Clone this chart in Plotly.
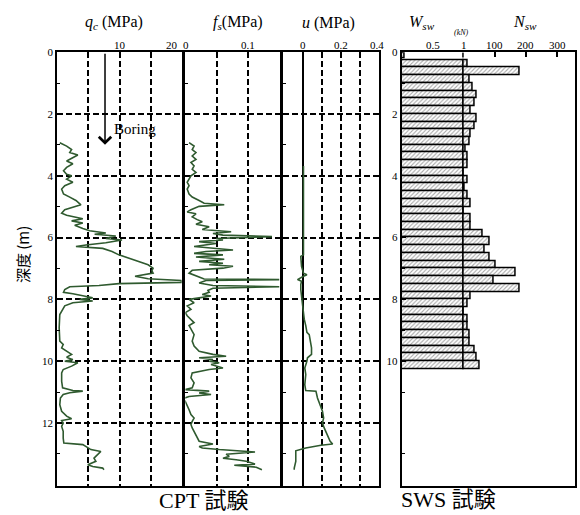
import plotly.graph_objects as go

# ---------------- data ----------------
qc_depth = [2.93, 3.04, 3.15, 3.25, 3.33, 3.41, 3.52, 3.61, 3.73, 3.84, 3.95, 4.0, 4.11, 4.21, 4.32, 4.43,
            4.59, 4.69, 4.8, 4.94, 5.01, 5.10, 5.21, 5.28, 5.39, 5.46, 5.53, 5.6, 5.71, 5.78, 5.85, 5.89,
            5.95, 6.03, 6.08, 6.17, 6.24, 6.29, 6.35, 6.45, 6.56, 6.67, 6.77, 6.88, 6.99, 7.07, 7.15, 7.25,
            7.33, 7.39, 7.45, 7.49, 7.55, 7.59, 7.68, 7.77, 7.82, 7.89, 7.95, 8.0, 8.05, 8.11, 8.21, 8.49,
            8.92, 9.35, 9.46, 9.57, 9.68, 9.78, 9.87, 9.95, 10.0, 10.05, 10.16, 10.27, 10.38, 10.65, 10.86,
            10.95, 10.97, 11.02, 11.08, 11.19, 11.41, 11.62, 11.78, 11.86, 11.92, 12.0, 12.11, 12.27, 12.49,
            12.65, 12.70, 12.79, 12.86, 12.92, 13.03, 13.14, 13.24, 13.35, 13.41, 13.46, 13.51]
qc_val = [0.4, 1.5, 2.3, 2.0, 3.3, 2.5, 1.5, 2.5, 1.5, 1.0, 1.5, 2.3, 1.5, 2.5, 1.2, 0.7,
          1.0, 2.0, 3.0, 3.8, 2.5, 1.2, 0.7, 1.5, 4.1, 2.3, 4.1, 2.8, 4.1, 5.2, 7.8, 6.0,
          9.4, 7.8, 10.4, 7.8, 4.6, 3.0, 7.3, 8.8, 9.9, 11.5, 13.0, 14.6, 15.4, 15.2, 15.4, 12.5,
          14.6, 19.9, 20.0, 9.9, 6.7, 2.0, 1.2, 1.0, 2.5, 4.6, 5.7, 3.6, 5.7, 2.5, 1.2, 0.4,
          0.3, 0.4, 0.95, 0.7, 1.5, 2.3, 1.5, 2.5, 1.2, 3.3, 2.3, 0.95, 0.7, 0.7, 0.85,
          2.5, 4.1, 2.0, 0.95, 0.5, 0.4, 0.7, 1.5, 2.3, 0.7, 0.95, 0.7, 0.95, 0.95,
          1.05, 4.1, 4.9, 5.4, 7.0, 6.5, 5.9, 6.2, 4.9, 5.7, 7.3, 7.5]

fs_depth = [2.93, 3.04, 3.15, 3.25, 3.36, 3.47, 3.57, 3.68, 3.79, 3.89, 4.0, 4.11, 4.21, 4.32, 4.43, 4.59,
            4.69, 4.8, 4.89, 4.94, 4.99, 5.10, 5.17, 5.23, 5.33, 5.42, 5.49, 5.57, 5.65, 5.74, 5.81, 5.87,
            5.92, 5.97, 6.03, 6.08, 6.13, 6.19, 6.24, 6.29, 6.40, 6.45, 6.51, 6.56, 6.63, 6.70, 6.77, 6.83,
            6.88, 6.93, 6.99, 7.06, 7.15, 7.25, 7.34, 7.36, 7.39, 7.47, 7.55, 7.59, 7.64, 7.71, 7.77, 7.84,
            7.89, 7.95, 8.0, 8.11, 8.21, 8.32, 8.43, 8.53, 8.64, 8.75, 8.85, 9.01, 9.14, 9.35, 9.51, 9.68,
            9.78, 9.84, 9.89, 9.95, 10.0, 10.05, 10.11, 10.22, 10.27, 10.38, 10.54, 10.7, 10.86, 10.92,
            10.97, 11.03, 11.08, 11.14, 11.21, 11.30, 11.41, 11.57, 11.73, 11.84, 11.95, 12.05, 12.16,
            12.27, 12.38, 12.49, 12.59, 12.68, 12.76, 12.81, 12.86, 12.94, 13.01, 13.08, 13.14, 13.19,
            13.24, 13.33, 13.37, 13.43, 13.51]
fs_val = [0.006, 0.014, 0.011, 0.017, 0.011, 0.017, 0.009, 0.014, 0.011, 0.017, 0.009, 0.006, 0.003, 0.006,
          0.003, 0.006, 0.011, 0.022, 0.030, 0.062, 0.022, 0.009, 0.003, 0.017, 0.011, 0.019, 0.027, 0.017,
          0.038, 0.027, 0.073, 0.044, 0.060, 0.138, 0.049, 0.060, 0.022, 0.049, 0.027, 0.014, 0.076, 0.033,
          0.014, 0.060, 0.017, 0.062, 0.022, 0.060, 0.038, 0.076, 0.060, 0.011, 0.006, 0.019, 0.030, 0.15,
          0.033, 0.022, 0.044, 0.15, 0.044, 0.036, 0.038, 0.027, 0.041, 0.022, 0.006, 0.014, 0.003, 0.009,
          0.0, 0.003, 0.009, 0.014, 0.006, 0.011, 0.014, 0.011, 0.014, 0.022, 0.044, 0.065, 0.022, 0.044,
          0.038, 0.054, 0.041, 0.060, 0.038, 0.011, 0.009, 0.014, 0.011, 0.0, 0.038, 0.022, 0.041, 0.006,
          -0.004, 0.0, 0.003, 0.006, 0.009, 0.014, 0.011, 0.009, 0.011, 0.014, 0.017, 0.019, 0.022, 0.044,
          0.022, 0.027, 0.054, 0.111, 0.065, 0.070, 0.060, 0.081, 0.097, 0.111, 0.078, 0.113, 0.122]

u_depth = [3.68, 5.85, 6.56, 6.61, 6.93, 7.15, 7.2, 7.25, 7.36, 7.41, 7.52, 7.68, 7.89, 8.21, 8.64, 8.85,
           9.07, 9.14, 9.35, 9.57, 9.78, 9.89, 10.0, 10.22, 10.43, 10.76, 10.95, 10.97, 11.19, 11.41,
           11.62, 11.84, 12.0, 12.16, 12.38, 12.59, 12.68, 12.72, 12.81, 12.90, 13.03, 13.24, 13.46, 13.51]
u_val = [0.005, 0.005, 0.005, -0.009, -0.005, 0.005, 0.023, 0.005, -0.026, -0.005, -0.009, -0.009, -0.005,
         -0.002, 0.009, 0.017, 0.023, 0.035, 0.040, 0.047, 0.047, 0.026, 0.023, 0.012, 0.017, 0.012, 0.017,
         0.070, 0.078, 0.092, 0.104, 0.110, 0.104, 0.113, 0.127, 0.144, 0.157, 0.096, 0.017, -0.035, -0.035,
         -0.035, -0.043, -0.043]

sws_depth = [0.125, 0.375, 0.625, 0.875, 1.125, 1.375, 1.625, 1.875, 2.125, 2.375, 2.625, 2.875, 3.125,
             3.375, 3.625, 3.875, 4.125, 4.375, 4.625, 4.875, 5.125, 5.375, 5.625, 5.875, 6.125, 6.375,
             6.625, 6.875, 7.125, 7.375, 7.625, 7.875, 8.125, 8.375, 8.625, 8.875, 9.125, 9.375, 9.625,
             9.875, 10.125]
wsw = [0.05] + [1.0] * 40
nsw = [0, 12, 181, 19, 31, 42, 37, 24, 42, 37, 24, 19, 8, 12, 12, 0, 12, 5, 12, 24, 0, 24, 24, 62, 85, 67,
       85, 104, 168, 98, 181, 24, 12, 0, 12, 12, 19, 19, 37, 42, 51]

depth_ticks = [0, 2, 4, 6, 8, 10, 12]
sws_depth_ticks = [0, 2, 4, 6, 8, 10]
minor_ticks = [1, 3, 5, 7, 9, 11, 13]

# ---------------- layout helpers ----------------
W, H = 580, 515
def xd(a, b):
    return [a / W, b / W]
YDOM = [1 - 486 / H, 1 - 46.7 / H]
DEPTH_RANGE = [14.05, 0]
SERIF = "Liberation Serif, Times New Roman, serif"
CJK = "Noto Sans CJK JP, sans-serif"
GREEN = "#2f5a2f"

fig = go.Figure()

fig.add_trace(go.Scatter(x=qc_val, y=qc_depth, mode="lines", line=dict(color=GREEN, width=1.6),
                         xaxis="x", yaxis="y", showlegend=False))
fig.add_trace(go.Scatter(x=fs_val, y=fs_depth, mode="lines", line=dict(color=GREEN, width=1.6),
                         xaxis="x2", yaxis="y2", showlegend=False))
fig.add_trace(go.Scatter(x=u_val, y=u_depth, mode="lines", line=dict(color=GREEN, width=1.6),
                         xaxis="x3", yaxis="y3", showlegend=False))

bar_w = [0.17] + [0.25] * 40
pattern = dict(shape="/", fgcolor="#a8a8a8", bgcolor="white", size=3, solidity=0.35, fillmode="replace")
fig.add_trace(go.Bar(x=wsw, y=sws_depth, orientation="h", width=bar_w, base=0,
                     marker=dict(color="white", pattern=pattern, line=dict(color="black", width=1.5)),
                     xaxis="x4", yaxis="y4", showlegend=False))
fig.add_trace(go.Bar(x=nsw, y=sws_depth, orientation="h", width=bar_w, base=0,
                     marker=dict(color="white", pattern=pattern, line=dict(color="black", width=1.5)),
                     xaxis="x5", yaxis="y4", showlegend=False))

grid = dict(showgrid=True, gridcolor="black", gridwidth=1.5, griddash="6px,3px")
frame = dict(showline=True, linecolor="black", linewidth=2, mirror=True, zeroline=False)

def xaxis(dom, rng, gridvals, **kw):
    d = dict(domain=dom, range=rng, side="top", tickvals=gridvals, showticklabels=False, ticks="",
             fixedrange=True, **grid, **frame)
    d.update(kw)
    return d

def yaxis(anchor, ticks_vals, labels=True, showgrid=True):
    d = dict(domain=YDOM, range=DEPTH_RANGE, anchor=anchor, tickvals=ticks_vals,
             ticktext=[str(v) for v in ticks_vals], showticklabels=labels, ticks="inside", ticklen=4,
             tickwidth=1.2, tickcolor="black", tickfont=dict(family=SERIF, size=11, color="black"),
             minor=dict(tickvals=minor_ticks, ticks="inside", ticklen=3, tickcolor="black", showgrid=False),
             **frame)
    d.update(grid)
    d["showgrid"] = showgrid
    return d

fig.update_layout(
    width=W, height=H, margin=dict(l=0, r=0, t=0, b=0),
    paper_bgcolor="white", plot_bgcolor="white", barmode="overlay", bargap=0,
    xaxis=xaxis(xd(57.3, 181.7), [0, 20], [5, 10, 15], anchor="y"),
    xaxis2=xaxis(xd(185.3, 279.5), [0, 0.15], [0.05, 0.1], anchor="y2"),
    xaxis3=xaxis(xd(283.3, 379.3), [-0.1, 0.4], [0.1, 0.2, 0.3], anchor="y3",
                 zeroline=True, zerolinecolor="black", zerolinewidth=1.5),
    xaxis4=dict(domain=xd(401.7, 575), range=[0, 2.804], anchor="y4", side="top", showticklabels=False,
                ticks="", showgrid=False, fixedrange=True, **frame),
    xaxis5=dict(range=[-198, 357.4], overlaying="x4", anchor="y4", side="top", showticklabels=False,
                tickvals=[100, 200, 300], ticks="inside", ticklen=5, tickwidth=1.5, tickcolor="black",
                showgrid=False, showline=False, zeroline=False, fixedrange=True),
    yaxis=yaxis("x", depth_ticks),
    yaxis2=yaxis("x2", depth_ticks, labels=False),
    yaxis3=yaxis("x3", depth_ticks, labels=False),
    yaxis4=yaxis("x4", sws_depth_ticks, showgrid=False),
)

ann = []
TOPY = 1 - 39 / H
top_labels = [
    ("x", 10, "10", "center", 0), ("x", 20, "20", "right", -2),
    ("x2", 0, "0", "center", 1), ("x2", 0.1, "0.1", "center", 0),
    ("x3", 0, "0", "center", 0), ("x3", 0.2, "0.2", "center", 0), ("x3", 0.4, "0.4", "center", -2),
    ("x4", 0.5, "0.5", "center", 0), ("x4", 1, "1", "center", 0),
    ("x5", 100, "100", "center", 0), ("x5", 200, "200", "center", 0), ("x5", 300, "300", "center", 0),
]
for xr, xv, txt, anc, sh in top_labels:
    ann.append(dict(xref=xr, yref="paper", x=xv, y=TOPY, text=txt, showarrow=False, xanchor=anc,
                    yanchor="middle", xshift=sh, font=dict(family=SERIF, size=11, color="black")))

TITY = 1 - 17 / H
titles = [
    (114 / W, "<i>q</i><sub><i>c</i></sub> (MPa)"),
    (238 / W, "<i>f</i><sub><i>s</i></sub>(MPa)"),
    (328 / W, "<i>u</i> (MPa)"),
    (422 / W, "<i>W</i><sub><i>sw</i></sub>"),
    (525 / W, "<i>N</i><sub><i>sw</i></sub>"),
]
for xv, txt in titles:
    ann.append(dict(xref="paper", yref="paper", x=xv, y=TITY, text=txt, showarrow=False,
                    xanchor="center", yanchor="middle", font=dict(family=SERIF, size=16, color="black")))
ann.append(dict(xref="paper", yref="paper", x=461 / W, y=1 - 27 / H, text="<i>(kN)</i>", showarrow=False,
                xanchor="center", yanchor="middle", font=dict(family=SERIF, size=8, color="black")))

# Boring arrow
ann.append(dict(xref="x", yref="y", x=7.67, y=3.0, ax=7.67, ay=0, axref="x", ayref="y", text="",
                showarrow=True, arrowhead=4, arrowsize=1.6, arrowwidth=1.5, arrowcolor="black"))
ann.append(dict(xref="x", yref="y", x=8.3, y=2.5, text="Boring", showarrow=False, xanchor="left",
                yanchor="middle", xshift=3, font=dict(family=SERIF, size=15, color="black")))

# bottom labels
ann.append(dict(xref="paper", yref="paper", x=203 / W, y=1 - 500 / H, text="CPT 試験", showarrow=False,
                xanchor="center", yanchor="middle", font=dict(family=SERIF + ", " + CJK, size=22, color="black")))
ann.append(dict(xref="paper", yref="paper", x=448 / W, y=1 - 499 / H, text="SWS 試験", showarrow=False,
                xanchor="center", yanchor="middle", font=dict(family=SERIF + ", " + CJK, size=22, color="black")))
# y title
ann.append(dict(xref="paper", yref="paper", x=22 / W, y=1 - 252 / H, text="深度 (m)", showarrow=False,
                textangle=-90, xanchor="center", yanchor="middle",
                font=dict(family=CJK, size=15, color="black")))

fig.update_layout(annotations=ann)
fig.write_html("out.html")
